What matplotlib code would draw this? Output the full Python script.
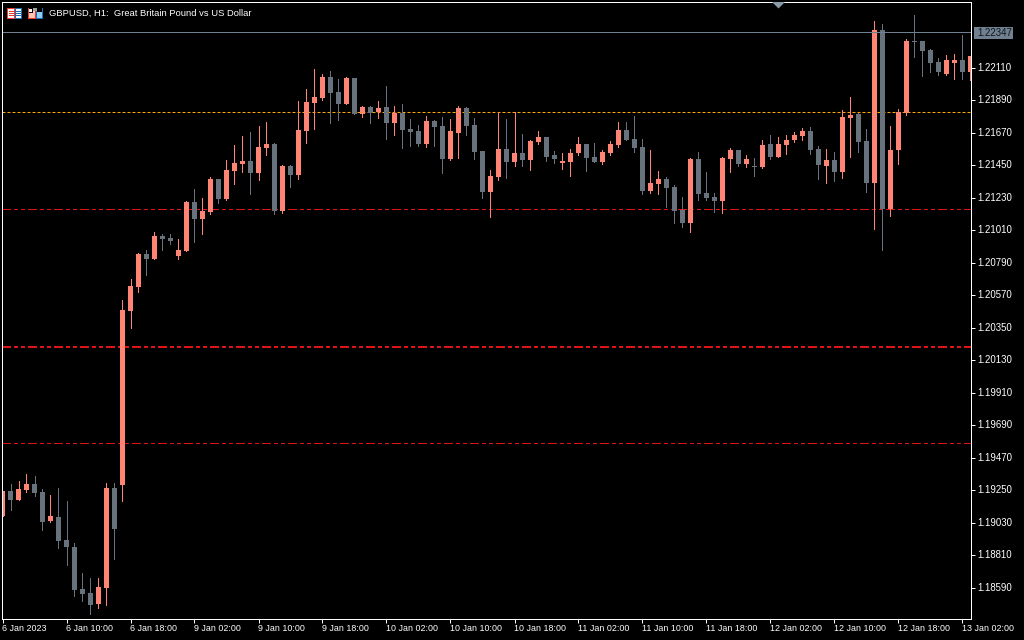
import numpy as np
import matplotlib
matplotlib.use("Agg")
import matplotlib.pyplot as plt
from matplotlib.patches import Rectangle, Polygon
from matplotlib.transforms import Affine2D, ScaledTranslation

symbol_title = "GBPUSD, H1:  Great Britain Pound vs US Dollar"

opens = [1.19074,1.19243,1.19182,1.19250,1.19291,1.19236,1.19040,1.19067,1.18911,1.18864,
1.18580,1.18553,1.18478,1.18587,1.19264,1.19284,1.20461,1.20624,1.20848,1.20814,
1.20969,1.20956,1.20834,1.20868,1.21199,1.21085,1.21131,1.21355,1.21220,1.21409,
1.21457,1.21477,1.21396,1.21565,1.21592,1.21138,1.21443,1.21382,1.21680,1.21870,
1.21904,1.22046,1.21944,1.21863,1.22039,1.21795,1.21843,1.21809,1.21843,1.21735,
1.21802,1.21694,1.21680,1.21592,1.21748,1.21714,1.21491,1.21667,1.21836,1.21721,
1.21545,1.21268,1.21369,1.21558,1.21470,1.21532,1.21484,1.21605,1.21639,1.21518,
1.21464,1.21470,1.21532,1.21592,1.21505,1.21470,1.21532,1.21585,1.21687,1.21626,
1.21572,1.21275,1.21322,1.21355,1.21302,1.21145,1.21057,1.21491,1.21261,1.21233,
1.21206,1.21491,1.21552,1.21457,1.21443,1.21436,1.21592,1.21505,1.21585,1.21619,
1.21646,1.21680,1.21558,1.21443,1.21484,1.21402,1.21768,1.21795,1.21612,1.21329,
1.22364,1.21152,1.21552,1.21802,1.22289,1.22289,1.22228,1.22147,1.22066,1.22141,
1.22161,1.22080]
highs = [1.19243,1.19291,1.19311,1.19358,1.19344,1.19257,1.19216,1.19264,1.19175,1.18891,
1.18688,1.18654,1.18654,1.19298,1.19298,1.20536,1.20678,1.20855,1.20875,1.20996,
1.20983,1.20983,1.20949,1.21206,1.21288,1.21227,1.21369,1.21355,1.21484,1.21585,
1.21646,1.21673,1.21714,1.21741,1.21599,1.21450,1.21450,1.21883,1.21964,1.22100,
1.22066,1.22086,1.22032,1.22046,1.22039,1.21849,1.21849,1.21883,1.21985,1.21849,
1.21863,1.21761,1.21721,1.21782,1.21755,1.21775,1.21761,1.21849,1.21843,1.21768,
1.21545,1.21416,1.21809,1.21761,1.21809,1.21660,1.21619,1.21680,1.21639,1.21545,
1.21532,1.21558,1.21639,1.21592,1.21599,1.21552,1.21612,1.21741,1.21741,1.21782,
1.21626,1.21552,1.21409,1.21369,1.21315,1.21233,1.21498,1.21538,1.21402,1.21261,
1.21505,1.21565,1.21552,1.21518,1.21498,1.21619,1.21653,1.21639,1.21653,1.21673,
1.21701,1.21707,1.21579,1.21558,1.21538,1.21822,1.21911,1.21802,1.21694,1.22425,
1.22405,1.21714,1.21829,1.22303,1.22465,1.22289,1.22235,1.22174,1.22194,1.22201,
1.22330,1.22188]
lows = [1.19074,1.19115,1.19182,1.19236,1.19209,1.18979,1.19033,1.18857,1.18742,1.18532,
1.18498,1.18411,1.18451,1.18471,1.18783,1.19175,1.20346,1.20590,1.20705,1.20814,
1.20875,1.20915,1.20814,1.20868,1.20928,1.20983,1.21118,1.21193,1.21213,1.21322,
1.21402,1.21254,1.21349,1.21518,1.21118,1.21125,1.21302,1.21355,1.21599,1.21694,
1.21890,1.21735,1.21755,1.21863,1.21795,1.21775,1.21735,1.21768,1.21626,1.21653,
1.21565,1.21579,1.21579,1.21572,1.21579,1.21396,1.21484,1.21498,1.21653,1.21491,
1.21227,1.21098,1.21349,1.21362,1.21443,1.21443,1.21416,1.21592,1.21477,1.21464,
1.21423,1.21376,1.21518,1.21409,1.21470,1.21457,1.21518,1.21572,1.21619,1.21538,
1.21254,1.21261,1.21254,1.21166,1.21057,1.21030,1.20996,1.21213,1.21213,1.21131,
1.21125,1.21402,1.21443,1.21436,1.21376,1.21430,1.21491,1.21505,1.21525,1.21605,
1.21619,1.21525,1.21355,1.21329,1.21342,1.21362,1.21505,1.21538,1.21268,1.21017,
1.20875,1.21105,1.21457,1.21788,1.22181,1.22052,1.22080,1.22059,1.22059,1.22032,
1.22032,1.22025]
closes = [1.19243,1.19182,1.19257,1.19291,1.19230,1.19033,1.19074,1.18904,1.18864,1.18573,
1.18546,1.18471,1.18594,1.19264,1.18986,1.20468,1.20630,1.20848,1.20814,1.20969,
1.20949,1.20935,1.20875,1.21199,1.21085,1.21138,1.21355,1.21220,1.21416,1.21464,
1.21477,1.21396,1.21572,1.21592,1.21138,1.21443,1.21382,1.21687,1.21876,1.21911,
1.22046,1.21938,1.21863,1.22039,1.21795,1.21843,1.21802,1.21836,1.21735,1.21802,
1.21687,1.21673,1.21592,1.21748,1.21707,1.21491,1.21680,1.21836,1.21714,1.21538,
1.21268,1.21376,1.21558,1.21470,1.21532,1.21484,1.21612,1.21639,1.21505,1.21491,
1.21477,1.21532,1.21592,1.21498,1.21470,1.21538,1.21592,1.21687,1.21619,1.21565,
1.21275,1.21329,1.21355,1.21295,1.21138,1.21057,1.21491,1.21254,1.21227,1.21206,
1.21498,1.21552,1.21457,1.21491,1.21436,1.21585,1.21505,1.21592,1.21619,1.21653,
1.21680,1.21552,1.21450,1.21484,1.21402,1.21775,1.21788,1.21605,1.21329,1.22364,
1.21152,1.21552,1.21809,1.22289,1.22283,1.22221,1.22141,1.22080,1.22161,1.22161,
1.22080,1.22188]

y_ticks = [1.18590,1.18810,1.19030,1.19250,1.19470,1.19690,1.19910,1.20130,1.20350,
           1.20570,1.20790,1.21010,1.21230,1.21450,1.21670,1.21890,1.22110]
x_tick_labels = ["6 Jan 2023","6 Jan 10:00","6 Jan 18:00","9 Jan 02:00","9 Jan 10:00",
                 "9 Jan 18:00","10 Jan 02:00","10 Jan 10:00","10 Jan 18:00","11 Jan 02:00",
                 "11 Jan 10:00","11 Jan 18:00","12 Jan 02:00","12 Jan 10:00","12 Jan 18:00",
                 "13 Jan 02:00"]
x_tick_positions = [0,8,16,24,32,40,48,56,64,72,80,88,96,104,112,120]

last_price = 1.22347
orange_level = 1.21806
red_thin_levels = [1.21150, 1.19568]
red_main_level = 1.20218

UP = "#FF8474"
DOWN = "#68727C"
SLATE = "#708090"
RED = "#E01414"
ORANGE = "#FFA500"
W, H = 1024, 640
PX = 0.72

plt.rcParams["font.family"] = ["Liberation Sans", "DejaVu Sans"]
plt.rcParams["lines.scale_dashes"] = False

fig = plt.figure(figsize=(W/100, H/100), dpi=100, facecolor="black")
ax = fig.add_axes([2.0/W, (H-619.0)/H, 969/W, 617/H], facecolor="black")

x = np.arange(len(opens))
o, h, l, c = map(np.array, (opens, highs, lows, closes))
up = c >= o
colors = np.where(up, UP, DOWN)

ax.set_xlim(-0.0625, 121.0625)
ax.set_ylim(1.183769, 1.225534)

ax.vlines(x, l, h, colors=colors, linewidth=PX, antialiaseds=False, zorder=4)
ax.bar(x, np.maximum(np.abs(c-o), 0.00007), bottom=np.minimum(o, c), width=5/8,
       color=colors, linewidth=0, antialiased=False, zorder=5)

dashdot = (0, (9*PX, 3*PX, 3*PX, 3*PX, 3*PX, 3*PX))
for lv in red_thin_levels:
    ax.axhline(lv, color=RED, lw=PX, linestyle=dashdot, dash_capstyle="butt", zorder=3, antialiased=False)
ax.axhline(red_main_level, color=RED, lw=PX*2, linestyle=dashdot, dash_capstyle="butt", zorder=3, antialiased=False)
ax.axhline(orange_level, color=ORANGE, lw=PX, linestyle=(0, (3*PX, 2*PX)), dash_capstyle="butt", zorder=3, antialiased=True)
ax.axhline(last_price, color=SLATE, lw=PX, zorder=6, antialiased=False)

for s in ax.spines.values():
    s.set_color("white")
    s.set_linewidth(PX)
    s.set_zorder(10)

ax.yaxis.tick_right()
ax.set_yticks(y_ticks)
ax.set_yticklabels([f"{v:.5f}" for v in y_ticks])
ax.set_xticks(x_tick_positions)
ax.set_xticklabels(x_tick_labels, ha="left")
ax.tick_params(axis="both", color="white", width=PX, length=4*PX, labelcolor="white")
ax.tick_params(axis="x", pad=0.8, labelsize=6.4)
ax.tick_params(axis="y", pad=1.4, labelsize=6.9)
up_1px = ScaledTranslation(0, 1/100, fig.dpi_scale_trans)
for t in ax.yaxis.get_major_ticks():
    t.label2.set_transform(t.label2.get_transform() + up_1px)

# current price tag
px = Affine2D().scale(1, -1).translate(0, H)
fig.add_artist(Rectangle((974, 27), 39, 12, transform=px, fc=SLATE, ec="none", antialiased=False))
fig.text(977.5/W, 1-32.5/H, f"{last_price:.5f}", fontsize=6.9, color="#10151a", va="center", ha="left", zorder=12)

fig.text(49/W, 1-13.5/H, symbol_title, color="white", fontsize=6.75, va="center", ha="left")

def rect(x0, y0, w, hh, fc):
    fig.add_artist(Rectangle((x0, y0), w, hh, transform=px, fc=fc, ec="none", antialiased=False))

# toolbar icon 1
rect(7, 8, 8, 11, "#F03A2E"); rect(15, 8, 7, 11, "#1F6FB5")
rect(8, 9, 6, 9, "white"); rect(16, 9, 5, 9, "white")
for yy in (11, 13, 15):
    rect(9, yy, 5, 1, "#F03A2E"); rect(16, yy, 5, 1, "#1F6FB5")
# toolbar icon 2
rect(28, 8, 8, 11, "#F03A2E"); rect(36, 8, 7, 11, "#1F6FB5")
rect(29, 9, 6, 9, "#FFC8B8"); rect(37, 9, 5, 9, "#8FD0F5")
rect(33, 8, 4, 3, "#A0A0A0"); rect(29, 8, 4, 5, "black"); rect(37, 8, 5, 4, "black")
rect(29, 9, 3, 3, "white")

# one-shot marker at the top
fig.add_artist(Polygon([(772, 2), (785, 2), (778.5, 8.5)], closed=True, transform=px,
                       fc="#8899AA", ec="none"))

fig.savefig("out.png", dpi=100, facecolor="black")
